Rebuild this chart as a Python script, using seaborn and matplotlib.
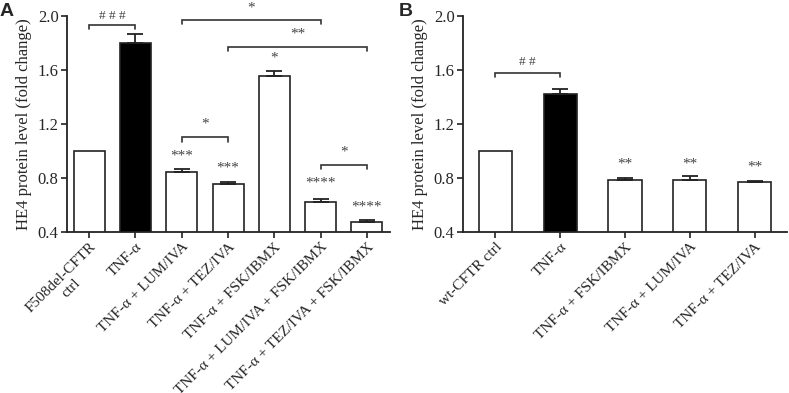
import matplotlib
matplotlib.use("Agg")
import matplotlib.pyplot as plt
import seaborn as sns
import pandas as pd
import numpy as np

# ---- data ----
cats_a = ["F508del-CFTR\nctrl", "TNF-α", "TNF-α + LUM/IVA", "TNF-α + TEZ/IVA",
          "TNF-α + FSK/IBMX", "TNF-α + LUM/IVA + FSK/IBMX", "TNF-α + TEZ/IVA + FSK/IBMX"]
vals_a = [1.00, 1.80, 0.848, 0.753, 1.558, 0.622, 0.476]
err_a = [0.0, 0.068, 0.019, 0.020, 0.032, 0.025, 0.011]
stars_a = ["", "", "***", "***", "*", "****", "****"]
star_y_a = [None, None, 0.96, 0.875, 1.69, 0.76, 0.585]

cats_b = ["wt-CFTR ctrl", "TNF-α", "TNF-α + FSK/IBMX", "TNF-α + LUM/IVA", "TNF-α + TEZ/IVA"]
vals_b = [1.00, 1.425, 0.787, 0.787, 0.772]
err_b = [0.0, 0.033, 0.010, 0.026, 0.005]
stars_b = ["", "", "**", "**", "**"]
star_y_b = [None, None, 0.90, 0.90, 0.88]

# brackets: (i, j, y, label, label_y, fontsize)
brackets_a = [(0, 1, 1.936, "# # #", 2.0, 9.5),
              (2, 5, 1.973, "*", 2.06, 11),
              (3, 6, 1.77, "**", 1.87, 11),
              (2, 3, 1.10, "*", 1.20, 11),
              (5, 6, 0.895, "*", 0.99, 11)]
brackets_b = [(0, 1, 1.575, "# #", 1.66, 9.5)]

ylabel = "HE4 protein level (fold change)"
yticks = [0.4, 0.8, 1.2, 1.6, 2.0]

sns.set_theme(style="ticks")
plt.rcParams["font.family"] = ["Liberation Serif", "DejaVu Serif"]

fig = plt.figure(figsize=(7.89, 3.93), dpi=100)
ax_a = fig.add_axes([67/789, 1-232/393, (390-67)/789, (232-16)/393])
ax_b = fig.add_axes([463/789, 1-232/393, (787-463)/789, (232-16)/393])

ann_color = "#444444"


def draw(ax, cats, vals, errs, stars, star_ys, brackets, width, xlim):
    df = pd.DataFrame({"cat": cats, "val": vals})
    colors = ["white"] * len(cats)
    colors[1] = "black"
    sns.barplot(data=df, x="cat", y="val", hue="cat", palette=colors, legend=False,
                width=width, edgecolor="#222222", linewidth=1.2, ax=ax, errorbar=None)
    x = np.arange(len(cats))
    e = np.array(errs)
    m = e > 0
    ax.errorbar(x[m], np.array(vals)[m], yerr=[np.zeros(m.sum()), e[m]], fmt="none",
                ecolor="#222222", elinewidth=1.3, capsize=5.5, capthick=1.3, zorder=3)
    for xi, s, sy in zip(x, stars, star_ys):
        if s:
            ax.text(xi, sy, s, ha="center", va="center", fontsize=11, color=ann_color)
    for (i, j, y, lab, ly, fs) in brackets:
        d = 0.03
        ax.plot([i, i, j, j], [y - d, y, y, y - d], color="#333333", lw=1.2,
                clip_on=False, solid_joinstyle="miter")
        ax.text((i + j) / 2, ly, lab, ha="center", va="center", fontsize=fs,
                color=ann_color, clip_on=False)
    ax.set_ylim(0.4, 2.0)
    ax.set_xlim(*xlim)
    ax.set_yticks(yticks)
    ax.set_yticklabels([f"{t:.1f}" for t in yticks], fontsize=12)
    ax.set_ylabel(ylabel, fontsize=12, labelpad=4)
    ax.set_xlabel("")
    ax.set_xticks(x)
    ax.set_xticklabels(cats, rotation=45, ha="right", rotation_mode="anchor",
                       fontsize=11, multialignment="center")
    sns.despine(ax=ax)
    for sp in ["left", "bottom"]:
        ax.spines[sp].set_linewidth(1.3)
        ax.spines[sp].set_color("#222222")
    ax.tick_params(axis="both", direction="out", length=4, width=1.2, color="#222222",
                   pad=2)


draw(ax_a, cats_a, vals_a, err_a, stars_a, star_y_a, brackets_a, 0.67, (-0.48, 6.5))
draw(ax_b, cats_b, vals_b, err_b, stars_b, star_y_b, brackets_b, 0.51, (-0.5, 4.5))

fig.text(0/789, 1-3/393, "A", fontsize=14, fontweight="bold", family="Liberation Sans",
         va="top", ha="left")
fig.text(399/789, 1-3/393, "B", fontsize=14, fontweight="bold", family="Liberation Sans",
         va="top", ha="left")

fig.savefig("out.png", dpi=100)
